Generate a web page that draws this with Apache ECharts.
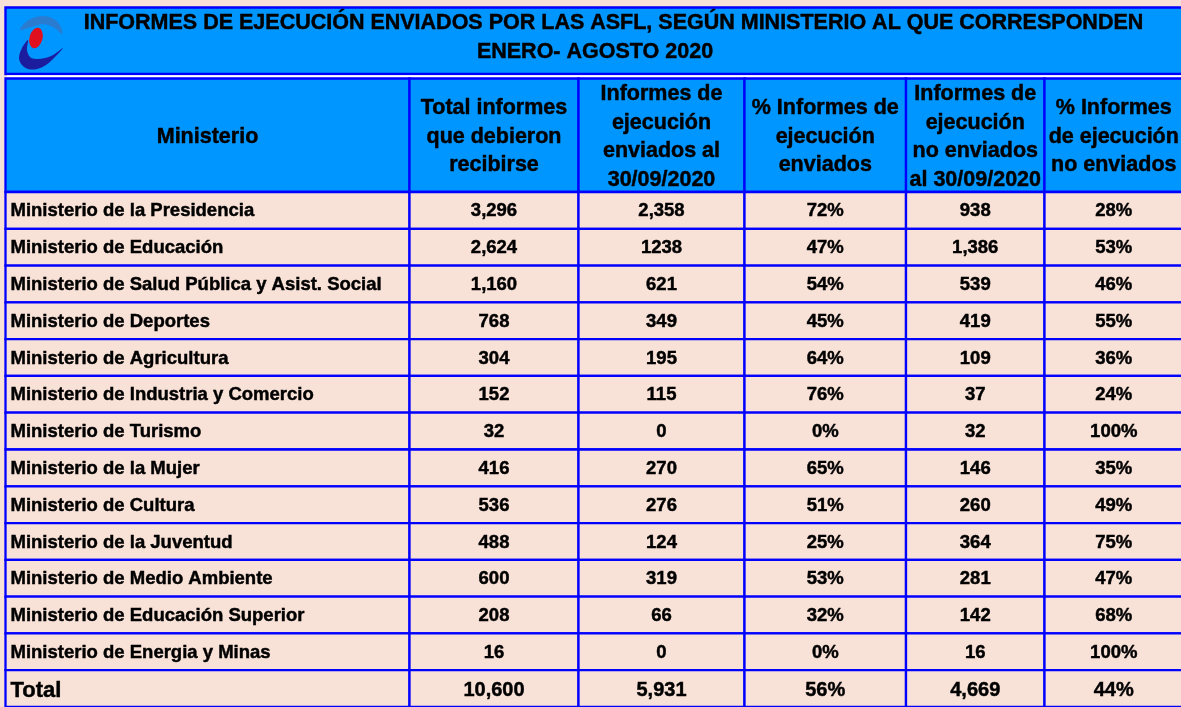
<!DOCTYPE html>
<html lang="es">
<head>
<meta charset="utf-8">
<title>Informes de ejecución enviados por las ASFL</title>
<script src="https://cdn.jsdelivr.net/npm/echarts@6/dist/echarts.min.js"></script>
<style>
    html, body { margin: 0; padding: 0; background: #F8E1D7; overflow: hidden; }
    #main { width: 1181px; height: 707px; }
</style>
</head>
<body>
<div id="main"></div>
<script type="text/javascript">
    // datos de la tabla
    var ministerios = [
        'Ministerio de la Presidencia',
        'Ministerio de Educación',
        'Ministerio de Salud Pública y Asist. Social',
        'Ministerio de Deportes',
        'Ministerio de Agricultura',
        'Ministerio de Industria y Comercio',
        'Ministerio de Turismo',
        'Ministerio de la Mujer',
        'Ministerio de Cultura',
        'Ministerio de la Juventud',
        'Ministerio de Medio Ambiente',
        'Ministerio de Educación Superior',
        'Ministerio de Energia y Minas'
    ];
    var totalDebieron = ['3,296', '2,624', '1,160', '768', '304', '152', '32', '416', '536', '488', '600', '208', '16'];
    var enviados = ['2,358', '1238', '621', '349', '195', '115', '0', '270', '276', '124', '319', '66', '0'];
    var pctEnviados = ['72%', '47%', '54%', '45%', '64%', '76%', '0%', '65%', '51%', '25%', '53%', '32%', '0%'];
    var noEnviados = ['938', '1,386', '539', '419', '109', '37', '32', '146', '260', '364', '281', '142', '16'];
    var pctNoEnviados = ['28%', '53%', '46%', '55%', '36%', '24%', '100%', '35%', '49%', '75%', '47%', '68%', '100%'];
    var filaTotal = ['Total', '10,600', '5,931', '56%', '4,669', '44%'];

    var encabezados = [
        'Ministerio',
        'Total informes\nque debieron\nrecibirse',
        'Informes de\nejecución\nenviados al\n30/09/2020',
        '% Informes de\nejecución\nenviados',
        'Informes de\nejecución\nno enviados\nal 30/09/2020',
        '% Informes\nde ejecución\nno enviados'
    ];
    var titulo1 = 'INFORMES DE EJECUCIÓN ENVIADOS POR LAS ASFL, SEGÚN MINISTERIO AL QUE CORRESPONDEN';
    var titulo2 = 'ENERO- AGOSTO 2020';

    // bordes de columnas (px)
    var colEdges = [5.5, 409.5, 578.5, 744.5, 906, 1044.5, 1183];
    var peach = '#F8E1D7';
    var azul = '#0000FF';
    var celeste = '#0096FF';
    var fontFam = '"Liberation Sans", Arial, sans-serif';

    var filas = ministerios.concat(['Total']);
    var cells = [];
    ministerios.forEach(function (m, i) {
        var fila = [m, totalDebieron[i], enviados[i], pctEnviados[i], noEnviados[i], pctNoEnviados[i]];
        fila.forEach(function (t, c) { cells.push([c, i, t]); });
    });
    filaTotal.forEach(function (t, c) { cells.push([c, ministerios.length, t]); });

    // texto en negrita un poco mas grueso (como en Excel)
    function estiloTexto(text, size, align, extra) {
        var s = {
            text: text, align: align, verticalAlign: 'middle',
            font: 'bold ' + size + 'px ' + fontFam, fill: '#000',
            stroke: '#000', lineWidth: 0.45
        };
        for (var k in extra) s[k] = extra[k];
        return s;
    }

    // encabezado y titulo
    var graphics = [];
    graphics.push({ type: 'rect', shape: { x: 5.5, y: 7.5, width: 1200, height: 66.5 },
        style: { fill: celeste, stroke: azul, lineWidth: 2.4 } });
    graphics.push({ type: 'rect', shape: { x: 6.7, y: 75.2, width: 1200, height: 2.2 }, style: { fill: '#FFFFFF' } });
    graphics.push({ type: 'text', x: 613.5, y: 23, style: estiloTexto(titulo1, 21.5, 'center') });
    graphics.push({ type: 'text', x: 595, y: 52, style: estiloTexto(titulo2, 21.5, 'center') });
    // logo
    graphics.push({ type: 'polygon', shape: { smooth: 0.35, points: [[20, 30], [27, 21], [38, 16.5], [48, 16.5], [56, 20.5],
        [61, 27], [62, 34], [56, 29], [48, 25], [40, 24.5], [30, 27.5]] }, style: { fill: '#2A7CD0' } });
    graphics.push({ type: 'polygon', shape: { smooth: 0.35, points: [[28, 40], [22, 48], [19, 58], [22, 65], [28, 69],
        [37, 69], [46, 65], [55, 57], [63, 48], [53, 55], [45, 58], [36, 59], [30, 57], [27, 50]] },
        style: { fill: '#1C1C9E' } });
    graphics.push({ type: 'circle', x: 36, y: 38, scaleX: 0.62, rotation: -0.25, shape: { cx: 0, cy: 0, r: 10.5 },
        style: { fill: '#E0101E' } });

    encabezados.forEach(function (t, c) {
        var x0 = colEdges[c], x1 = colEdges[c + 1];
        graphics.push({ type: 'rect', shape: { x: x0, y: 78.5, width: x1 - x0, height: 113.5 },
            style: { fill: celeste, stroke: azul, lineWidth: 2.3 } });
        graphics.push({ type: 'text', x: (x0 + x1) / 2, y: 137,
            style: estiloTexto(t, 21.5, 'center', { lineHeight: 28.5 }) });
    });

    var myChart = echarts.init(document.getElementById('main'), null, { renderer: 'canvas' });

    var option = {
        backgroundColor: peach,
        animation: false,
        grid: { left: 0, right: 0, top: 192, height: 36.95 * filas.length },
        xAxis: { type: 'value', min: 0, max: 1181, show: false },
        yAxis: { type: 'category', data: filas, inverse: true, show: false },
        graphic: graphics,
        series: [{
            type: 'custom',
            clip: false,
            data: cells.map(function (d) { return [d[0], d[1]]; }),
            renderItem: function (params, api) {
                var cell = cells[params.dataIndex];
                var c = cell[0], r = cell[1];
                var p0 = api.coord([colEdges[c], r]);
                var p1 = api.coord([colEdges[c + 1], r]);
                var h = api.size([0, 1])[1];
                var esTotal = r === filas.length - 1;
                var size = esTotal ? (c === 0 ? 22 : 20) : 18.5;
                return {
                    type: 'group',
                    children: [{
                        type: 'rect',
                        shape: { x: p0[0], y: p0[1] - h / 2, width: p1[0] - p0[0], height: h },
                        style: { fill: peach, stroke: azul, lineWidth: 2.3 }
                    }, {
                        type: 'text',
                        x: c === 0 ? p0[0] + 5 : (p0[0] + p1[0]) / 2,
                        y: p0[1] + (esTotal ? 2 : 1),
                        style: estiloTexto(cell[2], size, c === 0 ? 'left' : 'center')
                    }]
                };
            }
        }]
    };

    myChart.setOption(option);
</script>
</body>
</html>
